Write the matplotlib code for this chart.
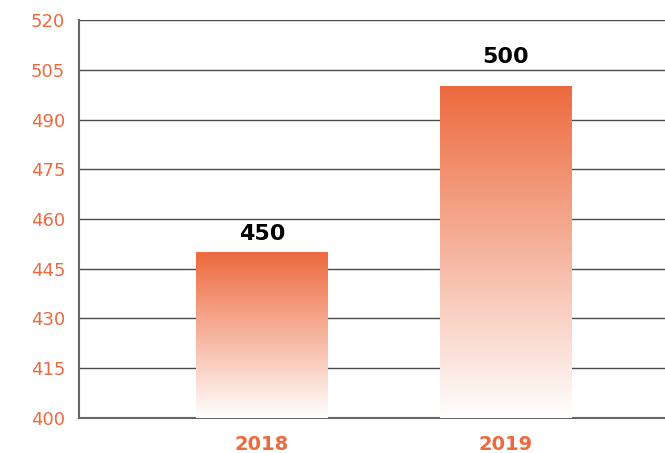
import numpy as np
import matplotlib.pyplot as plt
from matplotlib.colors import LinearSegmentedColormap

years = ['2018', '2019']
values = [450, 500]
yticks = [400, 415, 430, 445, 460, 475, 490, 505, 520]

orange = '#ED6A3E'
grid_c = '#4a4a4a'

fig = plt.figure(figsize=(6.65, 4.53), dpi=100)
ax = fig.add_axes([0.1188, 0.0773, 0.8812, 0.8785])

cmap = LinearSegmentedColormap.from_list('fade', ['#ffffff', orange])
grad = np.linspace(0, 1, 256).reshape(-1, 1)
width = 0.542
label_pad = [6, 14]  # label gap above each bar, in points

xs = np.arange(len(years))
for x, v, pad in zip(xs, values, label_pad):
    ax.imshow(grad, cmap=cmap, origin='lower', aspect='auto',
              extent=(x - width / 2, x + width / 2, 400, v), zorder=3)
    ax.annotate(str(v), (x, v), xytext=(0, pad), textcoords='offset points',
                ha='center', va='bottom', fontsize=16, fontweight='bold',
                color='black', zorder=4)

ax.set_xlim(-0.752, 1.655)
ax.set_ylim(400, 520)
ax.set_yticks(yticks)
ax.set_xticks(xs)
ax.set_xticklabels(years, fontweight='bold', fontsize=14, color=orange)
ax.tick_params(axis='y', length=0, labelsize=13, labelcolor=orange, pad=10)
ax.tick_params(axis='x', length=0, pad=12)

ax.yaxis.grid(True, color=grid_c, linewidth=1.0, zorder=1)
ax.set_axisbelow(True)
for s in ['top', 'right']:
    ax.spines[s].set_visible(False)
for s in ['left', 'bottom']:
    ax.spines[s].set_color('#666666')
    ax.spines[s].set_linewidth(1.5)

fig.savefig('out.png', dpi=100)
